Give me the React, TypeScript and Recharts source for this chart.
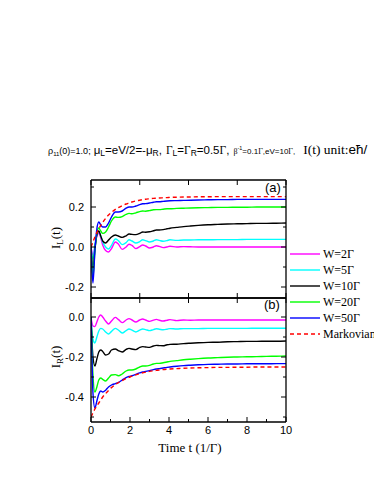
import { Line, LineChart, XAxis, YAxis } from "recharts"

// time grid (1/Γ)
const TIME = [0, 0.05, 0.1, 0.2, 0.3, 0.4, 0.5, 0.6, 0.75, 0.9, 1.05, 1.25, 1.4, 1.6, 1.8, 1.95, 2.1, 2.3, 2.5, 2.65, 2.8, 3.0, 3.2, 3.35, 3.5, 3.7, 3.9, 4.05, 4.4, 4.75, 5.1, 5.5, 6, 6.5, 7, 7.5, 8, 8.5, 9, 9.5, 10]

// panel (a): I_L(t)
const IL_W2 = [0, -0.025, -0.04, 0.0, 0.055, 0.07, 0.045, 0.01, -0.018, -0.025, -0.008, 0.025, 0.015, -0.012, 0.0, 0.014, 0.008, -0.008, 0.002, 0.01, 0.005, -0.005, 0.0, 0.006, 0.003, -0.003, 0.0, 0.004, 0.0, 0.002, 0.001, 0, 0, 0, 0, 0, 0, 0, 0, 0, 0]
const IL_W5 = [0, -0.04, -0.06, 0.01, 0.065, 0.08, 0.055, 0.025, 0.0, -0.01, 0.008, 0.04, 0.032, 0.012, 0.022, 0.036, 0.03, 0.02, 0.027, 0.036, 0.032, 0.025, 0.03, 0.036, 0.033, 0.029, 0.032, 0.036, 0.033, 0.035, 0.035, 0.036, 0.036, 0.037, 0.037, 0.037, 0.038, 0.038, 0.038, 0.038, 0.038]
const IL_W10 = [0, -0.07, -0.11, -0.01, 0.06, 0.08, 0.055, 0.03, 0.02, 0.035, 0.05, 0.06, 0.055, 0.048, 0.056, 0.065, 0.063, 0.062, 0.068, 0.075, 0.074, 0.076, 0.081, 0.085, 0.085, 0.087, 0.091, 0.094, 0.098, 0.102, 0.105, 0.108, 0.111, 0.113, 0.115, 0.116, 0.117, 0.118, 0.118, 0.119, 0.12]
const IL_W20 = [0, -0.09, -0.15, -0.02, 0.07, 0.095, 0.08, 0.068, 0.075, 0.1, 0.13, 0.15, 0.148, 0.152, 0.163, 0.168, 0.166, 0.171, 0.177, 0.18, 0.179, 0.182, 0.186, 0.187, 0.187, 0.189, 0.191, 0.191, 0.193, 0.194, 0.195, 0.196, 0.197, 0.198, 0.198, 0.199, 0.199, 0.2, 0.2, 0.2, 0.2]
const IL_W50 = [0, -0.12, -0.18, -0.02, 0.09, 0.125, 0.11, 0.1, 0.1, 0.12, 0.15, 0.175, 0.175, 0.18, 0.194, 0.2, 0.2, 0.205, 0.212, 0.216, 0.217, 0.22, 0.224, 0.226, 0.226, 0.228, 0.23, 0.231, 0.232, 0.233, 0.234, 0.235, 0.236, 0.237, 0.237, 0.238, 0.238, 0.238, 0.238, 0.238, 0.238]
const IL_MARKOV = [0, 0.012, 0.025, 0.05, 0.072, 0.092, 0.108, 0.123, 0.143, 0.16, 0.173, 0.188, 0.197, 0.207, 0.215, 0.22, 0.225, 0.23, 0.234, 0.237, 0.239, 0.241, 0.243, 0.244, 0.245, 0.246, 0.247, 0.248, 0.249, 0.25, 0.25, 0.251, 0.251, 0.252, 0.252, 0.252, 0.252, 0.252, 0.252, 0.252, 0.252]

// panel (b): I_R(t)
const IR_W2 = [0, -0.03, -0.045, -0.048, -0.025, 0.0, 0.01, 0.0, -0.02, -0.035, -0.02, -0.002, -0.012, -0.028, -0.015, -0.008, -0.015, -0.025, -0.015, -0.01, -0.015, -0.022, -0.016, -0.012, -0.016, -0.02, -0.016, -0.013, -0.018, -0.015, -0.016, -0.015, -0.015, -0.015, -0.015, -0.015, -0.015, -0.015, -0.015, -0.015, -0.015]
const IR_W5 = [0, -0.07, -0.11, -0.13, -0.1, -0.07, -0.057, -0.06, -0.075, -0.085, -0.072, -0.057, -0.065, -0.08, -0.068, -0.06, -0.066, -0.075, -0.066, -0.06, -0.063, -0.068, -0.063, -0.059, -0.061, -0.064, -0.061, -0.058, -0.06, -0.058, -0.058, -0.058, -0.057, -0.057, -0.057, -0.057, -0.057, -0.056, -0.056, -0.056, -0.056]
const IR_W10 = [0, -0.12, -0.2, -0.245, -0.21, -0.175, -0.165, -0.172, -0.19, -0.185, -0.165, -0.16, -0.168, -0.175, -0.162, -0.157, -0.16, -0.163, -0.152, -0.148, -0.15, -0.152, -0.145, -0.142, -0.143, -0.144, -0.139, -0.137, -0.136, -0.133, -0.131, -0.129, -0.127, -0.126, -0.124, -0.123, -0.122, -0.122, -0.121, -0.121, -0.12]
const IR_W20 = [0, -0.15, -0.29, -0.375, -0.35, -0.315, -0.305, -0.312, -0.32, -0.305, -0.29, -0.288, -0.294, -0.285, -0.27, -0.265, -0.265, -0.26, -0.25, -0.245, -0.245, -0.242, -0.235, -0.232, -0.232, -0.229, -0.225, -0.222, -0.218, -0.214, -0.211, -0.208, -0.205, -0.203, -0.201, -0.2, -0.199, -0.198, -0.197, -0.196, -0.195]
const IR_W50 = [0, -0.2, -0.38, -0.455, -0.42, -0.385, -0.37, -0.375, -0.366, -0.35, -0.34, -0.333, -0.328, -0.315, -0.303, -0.297, -0.294, -0.287, -0.279, -0.275, -0.272, -0.268, -0.263, -0.26, -0.258, -0.255, -0.252, -0.25, -0.246, -0.243, -0.241, -0.239, -0.237, -0.236, -0.235, -0.235, -0.234, -0.234, -0.234, -0.233, -0.233]
const IR_MARKOV = [-0.5, -0.49, -0.48, -0.46, -0.445, -0.43, -0.415, -0.4, -0.383, -0.367, -0.353, -0.338, -0.328, -0.318, -0.308, -0.302, -0.296, -0.289, -0.283, -0.279, -0.276, -0.272, -0.269, -0.267, -0.265, -0.263, -0.261, -0.26, -0.258, -0.256, -0.255, -0.254, -0.253, -0.252, -0.252, -0.251, -0.251, -0.25, -0.25, -0.25, -0.25]

const LEGEND_NAMES = ["W=2Γ", "W=5Γ", "W=10Γ", "W=20Γ", "W=50Γ", "Markovian"]

// axis ticks
const X_TICKS_MID = [0, 2.5, 5, 7.5, 10]
const X_TICKS_BOTTOM = [0, 1, 2, 3, 4, 5, 6, 7, 8, 9, 10]
const YA_TICKS = [-0.2, -0.1, 0, 0.1, 0.2, 0.3]
const YB_TICKS = [-0.5, -0.4, -0.3, -0.2, -0.1, 0]

const SERIES = [
  { key: "w2", color: "#ff00ff", dash: undefined },
  { key: "w5", color: "#00ffff", dash: undefined },
  { key: "w10", color: "#000000", dash: undefined },
  { key: "w20", color: "#00ff00", dash: undefined },
  { key: "w50", color: "#0000ff", dash: undefined },
  { key: "mk", color: "#ff0000", dash: "4 3" },
]

const rowsA = TIME.map((t, i) => ({ t, w2: IL_W2[i], w5: IL_W5[i], w10: IL_W10[i], w20: IL_W20[i], w50: IL_W50[i], mk: IL_MARKOV[i] }))
const rowsB = TIME.map((t, i) => ({ t, w2: IR_W2[i], w5: IR_W5[i], w10: IR_W10[i], w20: IR_W20[i], w50: IR_W50[i], mk: IR_MARKOV[i] }))

const SANS = "'Liberation Sans', Arial, sans-serif"
const SERIF = "'Liberation Serif', 'Times New Roman', serif"
const AXIS = { stroke: "#000", strokeWidth: 1.3 }

type Side = "left" | "right" | "top" | "bottom"

// inward ticks, Origin style; labels only on the left / bottom axes
function makeTick(side: Side, isMajor: (v: number) => boolean, showLabel: boolean) {
  return function Tick(props: any) {
    const { x, y, payload } = props
    const v = payload.value as number
    const major = isMajor(v)
    const len = major ? 5 : 3
    let x2 = x
    let y2 = y
    if (side === "left") x2 = x + len
    if (side === "right") x2 = x - len
    if (side === "top") y2 = y + len
    if (side === "bottom") y2 = y - len
    let label: string | null = null
    if (showLabel && major) {
      label = side === "bottom" ? String(v) : (Math.abs(v) < 1e-9 ? "0.0" : v.toFixed(1))
    }
    return (
      <g>
        <line x1={x} y1={y} x2={x2} y2={y2} stroke="#000" strokeWidth={1} />
        {label !== null && side === "left" && (
          <text x={x - 7} y={y + 4} textAnchor="end" fontFamily={SANS} fontSize={11} fill="#000">{label}</text>
        )}
        {label !== null && side === "bottom" && (
          <text x={x} y={y + 12} textAnchor="middle" fontFamily={SANS} fontSize={11} fill="#000">{label}</text>
        )}
      </g>
    )
  }
}

const evenTenth = (v: number) => Math.round(v * 10) % 2 === 0
const always = () => true
const evenInt = (v: number) => Math.round(v) % 2 === 0

// plot area: x 91..286; axes take real space so recharts draws them
function Panel({ rows, domain, yTicks, bottomTicks, bottomMajor, bottomLabels, top, height, bottomH }: any) {
  return (
    <div style={{ position: "absolute", left: 0, top, width: 374, height }}>
      <LineChart width={374} height={height} data={rows} margin={{ top: 0, right: 78, bottom: 0, left: 61 }}>
        <XAxis xAxisId="b" dataKey="t" type="number" domain={[0, 10]} ticks={bottomTicks} interval={0}
          height={bottomH} tickSize={0} tickMargin={0} tickLine={false} axisLine={AXIS} allowDataOverflow
          tick={makeTick("bottom", bottomMajor, bottomLabels)} />
        <XAxis xAxisId="t" orientation="top" dataKey="t" type="number" domain={[0, 10]} ticks={X_TICKS_MID} interval={0}
          height={10} tickSize={0} tickMargin={0} tickLine={false} axisLine={AXIS}
          tick={makeTick("top", always, false)} />
        <YAxis yAxisId="l" type="number" domain={domain} ticks={yTicks} interval={0} width={30}
          tickSize={0} tickMargin={0} tickLine={false} axisLine={AXIS} allowDataOverflow
          tick={makeTick("left", evenTenth, true)} />
        <YAxis yAxisId="r" orientation="right" type="number" domain={domain} ticks={yTicks} interval={0} width={10}
          tickSize={0} tickMargin={0} tickLine={false} axisLine={AXIS} allowDataOverflow
          tick={makeTick("right", evenTenth, false)} />
        {SERIES.map((s) => (
          <Line key={s.key} xAxisId="b" yAxisId="l" dataKey={s.key} type="monotone" stroke={s.color}
            strokeWidth={1.4} strokeDasharray={s.dash} dot={false} activeDot={false} isAnimationActive={false} />
        ))}
      </LineChart>
    </div>
  )
}

const LEGEND_Y = [254, 270, 286, 302, 318, 334]

export default function App() {
  return (
    <div style={{ position: "fixed", left: 0, top: 0, width: 374, height: 484, overflow: "hidden", background: "#fff" }}>
      <Panel rows={rowsA} domain={[-0.255, 0.335]} yTicks={YA_TICKS} bottomTicks={X_TICKS_MID} bottomMajor={always}
        bottomLabels={false} top={170} height={140} bottomH={12} />
      <Panel rows={rowsB} domain={[-0.525, 0.095]} yTicks={YB_TICKS} bottomTicks={X_TICKS_BOTTOM} bottomMajor={evenInt}
        bottomLabels={true} top={288} height={160} bottomH={26} />
      <svg width={374} height={484} style={{ position: "absolute", left: 0, top: 0, pointerEvents: "none" }}>
        {/* title line, one flowing text so the pieces never overlap */}
        <text x={48} y={154} fill="#000" fontFamily={SANS} fontSize={9}>
          <tspan>ρ</tspan>
          <tspan fontSize={6} dy={2}>11</tspan>
          <tspan dy={-2}>(0)=1.0;</tspan>
          <tspan fontSize={11.5} dx={3}>μ</tspan><tspan fontSize={8.5} dy={2}>L</tspan>
          <tspan fontSize={11.5} dy={-2}>=eV/2=-μ</tspan><tspan fontSize={8.5} dy={2}>R</tspan>
          <tspan fontSize={11.5} dy={-2}>,</tspan>
          <tspan fontSize={11.5} fontFamily={SERIF} dx={4}>Γ</tspan><tspan fontSize={8.5} dy={2}>L</tspan>
          <tspan fontSize={11.5} dy={-2}>=</tspan><tspan fontSize={11.5} fontFamily={SERIF}>Γ</tspan>
          <tspan fontSize={8.5} dy={2}>R</tspan><tspan fontSize={11.5} dy={-2}>=0.5</tspan>
          <tspan fontSize={11.5} fontFamily={SERIF}>Γ</tspan><tspan fontSize={11.5}>,</tspan>
          <tspan fontSize={8} fontFamily={SERIF} dx={4}>β</tspan><tspan fontSize={5.5} dy={-4}>-1</tspan>
          <tspan fontSize={8} dy={4}>=0.1</tspan><tspan fontSize={8} fontFamily={SERIF}>Γ</tspan>
          <tspan fontSize={8}>,eV=10</tspan><tspan fontSize={8} fontFamily={SERIF}>Γ</tspan><tspan fontSize={8}>,</tspan>
          <tspan fontSize={13.5} fontFamily={SERIF} dx={8}>I(t) unit:</tspan>
          <tspan fontSize={13.5}>eħ/</tspan>
        </text>

        {/* panel tags */}
        <text x={265} y={192} fontFamily={SANS} fontSize={13} fill="#000">(a)</text>
        <text x={264} y={309} fontFamily={SANS} fontSize={13} fill="#000">(b)</text>

        {/* axis titles */}
        <text transform="translate(60,238) rotate(-90)" textAnchor="middle" fontFamily={SERIF} fontSize={13} fill="#000">
          I<tspan fontSize={9} dy={3}>L</tspan><tspan dy={-3}>(t)</tspan>
        </text>
        <text transform="translate(60,357) rotate(-90)" textAnchor="middle" fontFamily={SERIF} fontSize={13} fill="#000">
          I<tspan fontSize={9} dy={3}>R</tspan><tspan dy={-3}>(t)</tspan>
        </text>
        <text x={190} y={452} textAnchor="middle" fontFamily={SERIF} fontSize={13} fill="#000">Time t (1/Γ)</text>

        {/* legend */}
        {SERIES.map((s, i) => (
          <g key={s.key}>
            <line x1={290} x2={320} y1={LEGEND_Y[i]} y2={LEGEND_Y[i]} stroke={s.color} strokeWidth={1.4} strokeDasharray={s.dash} />
            <text x={323} y={LEGEND_Y[i] + 4} fontFamily={SERIF} fontSize={12} fill="#000">{LEGEND_NAMES[i]}</text>
          </g>
        ))}
      </svg>
    </div>
  )
}
